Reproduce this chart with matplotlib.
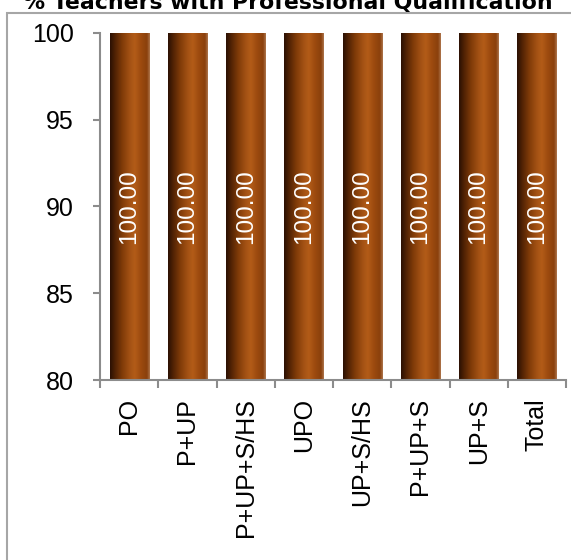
import matplotlib
matplotlib.use("Agg")
import matplotlib.pyplot as plt
import numpy as np
from matplotlib.colors import LinearSegmentedColormap
from matplotlib.patches import Rectangle

# chart data
categories = ['PO', 'P+UP', 'P+UP+S/HS', 'UPO', 'UP+S/HS', 'P+UP+S', 'UP+S', 'Total']
values = [100.00, 100.00, 100.00, 100.00, 100.00, 100.00, 100.00, 100.00]
y_ticks = [80, 85, 90, 95, 100]
title = '% Teachers with Professional Qualification'

plt.rcParams['font.family'] = ['Liberation Sans', 'DejaVu Sans']

fig = plt.figure(figsize=(5.71, 5.6), dpi=100)
fig.patch.set_facecolor('white')

# outer chart frame (runs off the right and bottom edges like the source)
frame = Rectangle((7 / 571, -0.05), 1.2, 1 - 13 / 560 + 0.05, transform=fig.transFigure,
                  fill=False, edgecolor='#a6a6a6', linewidth=1.5, zorder=0)
fig.patches.append(frame)

# title is clipped at the top and right in the source image
fig.text(23 / 571, 1 - 9 / 560, title, ha='left', va='baseline', family='DejaVu Sans',
         fontsize=15.8, fontweight='bold', color='black')

ax = fig.add_axes([100 / 571, 1 - 380 / 560, 466 / 571, 347 / 560])
y_min = y_ticks[0]

x = np.arange(len(categories))
# bars start at the axis floor, as in the source chart
bars = ax.bar(x, np.array(values) - y_min, bottom=y_min, width=0.67,
              color='none', edgecolor='none', zorder=2)

# cylinder-like shading for each bar
shade = LinearSegmentedColormap.from_list('shade', [
    (0.00, '#2a1003'), (0.12, '#4e2104'), (0.30, '#7e3a08'), (0.50, '#a45214'),
    (0.62, '#b35c18'), (0.78, '#9c4a0f'), (0.93, '#8a400c'), (1.00, '#b07850')])
grad = np.linspace(0, 1, 256).reshape(1, -1)
for b in bars:
    x0, y0 = b.get_x(), b.get_y()
    im = ax.imshow(grad, cmap=shade, aspect='auto',
                   extent=[x0, x0 + b.get_width(), y0, y0 + b.get_height()],
                   origin='lower', zorder=2, interpolation='bicubic')
    im.set_clip_path(b)

for xi, v in zip(x, values):
    ax.text(xi, (y_min + v) / 2, f'{v:.2f}', rotation=90, ha='center', va='center',
            color='white', fontsize=17.5, zorder=3)

ax.set_xlim(-0.5, len(categories) - 0.5)
ax.set_ylim(y_min, 100)
ax.set_yticks(y_ticks)
ax.set_xticks(x)
ax.set_xticklabels(categories, rotation=90)
ax.set_xticks(np.arange(-0.5, len(categories)), minor=True)

for side in ['top', 'right']:
    ax.spines[side].set_visible(False)
for side in ['left', 'bottom']:
    ax.spines[side].set_color('#8c8c8c')
    ax.spines[side].set_linewidth(1.5)

ax.tick_params(axis='y', which='major', direction='out', length=5, width=1.5, color='#8c8c8c',
               labelsize=18, pad=14)
ax.tick_params(axis='x', which='major', length=0, labelsize=18, pad=13)
ax.tick_params(axis='x', which='minor', direction='out', length=6, width=1.5, color='#8c8c8c')

fig.savefig('out.png', dpi=100, facecolor='white')
